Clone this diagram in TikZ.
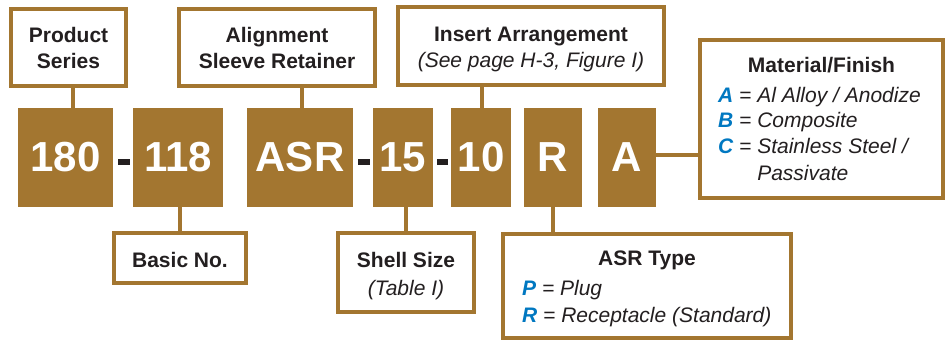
\documentclass[tikz,border=0pt]{standalone}
\usepackage{fontspec}
\setmainfont{Liberation Sans}
\definecolor{brn}{RGB}{163,118,48}
\definecolor{ink}{RGB}{35,31,32}
\definecolor{blu}{RGB}{0,120,193}
\begin{document}
\begin{tikzpicture}[x=1pt,y=-1pt,
  code/.style={fill=brn, draw=none, inner sep=0pt, text=white, minimum height=99pt,
    font=\fontsize{42}{42}\selectfont\bfseries},
  lbox/.style={draw=brn, line width=4pt, fill=white, inner sep=0pt},
  conn/.style={draw=brn, line width=4.5pt},
  hyph/.style={fill=ink, draw=none, inner sep=0pt, minimum width=12pt, minimum height=6pt},
  ttl/.style={font=\fontsize{21}{26}\selectfont\bfseries, text=ink, inner sep=0pt, anchor=base},
  itl/.style={font=\fontsize{21}{26}\selectfont\itshape, text=ink, inner sep=0pt, anchor=base},
  itw/.style={itl, anchor=base west},
  key/.style={text=blu, font=\bfseries\itshape}
]
\useasboundingbox (0,0) rectangle (947,341);

% code boxes
\node[code, minimum width=95pt]  (b180) at (65.5,157.5) {180};
\node[code, minimum width=90pt]  (b118) at (178,157.5) {118};
\node[code, minimum width=106pt] (bASR) at (300,157.5) {ASR};
\node[code, minimum width=60pt]  (b15)  at (403,157.5) {15};
\node[code, minimum width=60pt]  (b10)  at (481,157.5) {10};
\node[code, minimum width=58pt]  (bR)   at (553,157.5) {R};
\node[code, minimum width=58pt]  (bA)   at (627,157.5) {A};

% hyphens
\node[hyph] (d1) at (123.5,162) {};
\node[hyph] (d2) at (364,162) {};
\node[hyph, minimum width=11pt] (d3) at (442.5,162) {};

% label boxes
\node[lbox, minimum width=115pt, minimum height=77pt]  (ps) at (68.5,47.5) {};
\node[lbox, minimum width=196pt, minimum height=77pt]  (al) at (277,47.5) {};
\node[lbox, minimum width=266pt, minimum height=78pt]  (ia) at (531,46) {};
\node[lbox, minimum width=243pt, minimum height=158pt] (mf) at (821.5,119) {};
\node[lbox, minimum width=132pt, minimum height=50pt]  (bn) at (180,258) {};
\node[lbox, minimum width=136pt, minimum height=79pt]  (ss) at (406,272.5) {};
\node[lbox, minimum width=288pt, minimum height=104pt] (at) at (647,286) {};

% connectors
\draw[conn] (b180.north -| ps.south) ++(4.5,0) coordinate (c1) -- (c1 |- ps.south);
\draw[conn] (bASR.north) ++(2,0) coordinate (c2) -- (c2 |- al.south);
\draw[conn] (b10.north) ++(1,0) coordinate (c3) -- (c3 |- ia.south);
\draw[conn] (bn.north) -- (bn.north |- b118.south);
\draw[conn] (ss.north) -- (ss.north |- b15.south);
\draw[conn] (bR.south) -- (bR.south |- at.north);
\draw[conn] (bA.east) ++(0,-2.5) coordinate (c4) -- (c4 -| mf.west);

% texts
\node[ttl] (ps1) at (68.5,42) {Product};
\node[ttl] (ps2) at (68.5,68) {Series};
\node[ttl] (al1) at (277,42) {Alignment};
\node[ttl] (al2) at (277,68) {Sleeve Retainer};
\node[ttl] (ia1) at (531,41) {Insert Arrangement};
\node[itl] (ia2) at (531,67) {(See page H-3, Figure I)};
\node[ttl] (mf1) at (821.5,72) {Material/Finish};
\node[itw] (mf2) at (718,102) {\textcolor{blu}{\bfseries A} = Al Alloy / Anodize};
\node[itw] (mf3) at (718,127) {\textcolor{blu}{\bfseries B} = Composite};
\node[itw] (mf4) at (718,153) {\textcolor{blu}{\bfseries C} = Stainless Steel /};
\node[itw] (mf5) at (718,180) {\phantom{\bfseries C = }Passivate};
\node[ttl] (bn1) at (180,267) {Basic No.};
\node[ttl] (ss1) at (406,267) {Shell Size};
\node[itl] (ss2) at (406,295) {(Table I)};
\node[ttl] (at1) at (647,265) {ASR Type};
\node[itw] (at2) at (522,295) {\textcolor{blu}{\bfseries P} = Plug};
\node[itw] (at3) at (522,322) {\textcolor{blu}{\bfseries R} = Receptacle (Standard)};
\end{tikzpicture}
\end{document}
